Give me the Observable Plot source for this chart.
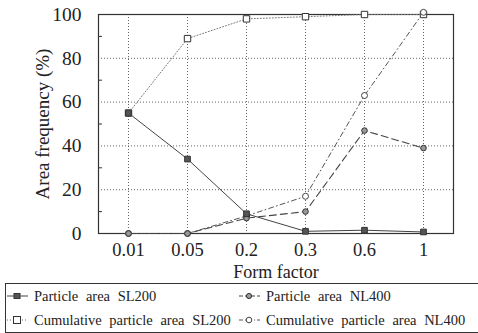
<!DOCTYPE html>
<html><head><meta charset="utf-8">
<script src="https://cdn.jsdelivr.net/npm/d3@7"></script>
<script src="https://cdn.jsdelivr.net/npm/@observablehq/plot@0.6"></script>
<style>
body{margin:0;background:#fff;font-family:'Liberation Serif','DejaVu Serif',serif;}
svg text{font-family:'Liberation Serif','DejaVu Serif',serif;}
#legend{position:absolute;left:5px;top:283px;width:490px;border:1px solid #333;font-size:14.5px;color:#222;word-spacing:4px;font-family:'Liberation Serif',serif;}
#legend .row{display:flex;height:24px;align-items:center;}
#legend .it{display:flex;align-items:center;}
#legend .it:first-child{width:232px;}
#legend svg{margin-right:4px;}
</style></head><body>
<div id="chart"></div>
<div id="legend"></div>
<script>
const formFactor = ["0.01","0.05","0.2","0.3","0.6","1"];
const sl200 = [55,34,9,1,1.5,0.7];
const cumSL200 = [55,89,98,99,100,100];
const nl400 = [0,0,7,10,47,39];
const cumNL400 = [0,0,8,17,63,101];
const yTicks = [0,20,40,60,80,100];
const yMinor = [10,30,50,70,90];
const seriesNames = ["Particle area SL200","Particle area NL400","Cumulative particle area SL200","Cumulative particle area NL400"];

const mk = v => formFactor.map((f,i)=>({f, v:v[i]}));
const s1 = mk(sl200), s2 = mk(cumSL200), s3 = mk(nl400), s4 = mk(cumNL400);
const ink = "#333";
const ff = "'Liberation Serif', 'DejaVu Serif', serif";

const plot = Plot.plot({
  width: 478, height: 282,
  marginLeft: 98, marginRight: 25, marginTop: 14, marginBottom: 49,
  style: {fontFamily: ff, fontSize: "17px", color: "#222", background: "white"},
  x: {type: "point", domain: formFactor, padding: 0.5},
  y: {domain: [0,100]},
  marks: [
    Plot.gridX(formFactor, {stroke: "#555", strokeOpacity: 0.9, strokeDasharray: "1,2"}),
    Plot.gridY(yTicks, {stroke: "#555", strokeOpacity: 0.9, strokeDasharray: "1,2"}),
    Plot.frame({stroke: ink, strokeWidth: 1.2}),
    Plot.axisY(yTicks, {tickSize: 0, tickPadding: 17, fontSize: 19.5, fontFamily: ff, label: null}),
    Plot.axisY(yMinor, {tickSize: -4, text: null, label: null, stroke: ink}),
    Plot.axisX(formFactor, {tickSize: 0, tickPadding: 9, fontSize: 18.5, fontFamily: ff, label: null}),
    Plot.text(["Area frequency (%)"], {frameAnchor: "left", textAnchor: "middle", lineAnchor: "middle", rotate: -90, dx: -56, fontSize: 19, fontFamily: ff, fill: "#222", style: "word-spacing:7px"}),
    Plot.text(["Form factor"], {frameAnchor: "bottom", textAnchor: "middle", lineAnchor: "middle", dy: 39, fontSize: 18, fontFamily: ff, fill: "#222", style: "word-spacing:6px"}),
    Plot.line(s2, {x: "f", y: "v", stroke: "#777", strokeWidth: 1, strokeDasharray: "1,2"}),
    Plot.line(s4, {x: "f", y: "v", stroke: "#555", strokeWidth: 1, strokeDasharray: "5,3,1,3"}),
    Plot.line(s3, {x: "f", y: "v", stroke: "#444", strokeWidth: 1.1, strokeDasharray: "7,4"}),
    Plot.line(s1, {x: "f", y: "v", stroke: "#444", strokeWidth: 1}),
    Plot.dot(s2, {x: "f", y: "v", symbol: "square", r: 3.6, stroke: "#333", fill: "white", strokeWidth: 1}),
    Plot.dot(s4, {x: "f", y: "v", r: 3, stroke: "#444", fill: "white", strokeWidth: 1}),
    Plot.dot(s3, {x: "f", y: "v", r: 2.8, stroke: "#333", fill: "#999", strokeWidth: 1}),
    Plot.dot(s1, {x: "f", y: "v", symbol: "square", r: 3.2, stroke: "#333", fill: "#555", strokeWidth: 1})
  ]
});
document.getElementById("chart").appendChild(plot);

const sym = [
  '<svg width="24" height="10"><line x1="1" y1="5" x2="22" y2="5" stroke="#444"/><rect x="8" y="2.5" width="6" height="5" fill="#555" stroke="#333"/></svg>',
  '<svg width="24" height="10"><line x1="1" y1="5" x2="22" y2="5" stroke="#444" stroke-dasharray="4,2"/><circle cx="11" cy="5" r="2.6" fill="#999" stroke="#333"/></svg>',
  '<svg width="24" height="10"><line x1="1" y1="5" x2="22" y2="5" stroke="#666" stroke-dasharray="1,2"/><rect x="7.5" y="1.5" width="7" height="7" fill="white" stroke="#333"/></svg>',
  '<svg width="24" height="10"><line x1="1" y1="5" x2="22" y2="5" stroke="#555" stroke-dasharray="4,2,1,2"/><circle cx="11" cy="5" r="2.8" fill="white" stroke="#444"/></svg>'
];
const leg = document.getElementById("legend");
for (let r = 0; r < 2; r++) {
  const row = document.createElement("div"); row.className = "row";
  for (let c = 0; c < 2; c++) {
    const k = r*2 + c;
    const it = document.createElement("div"); it.className = "it";
    it.innerHTML = sym[k];
    const t = document.createElement("span"); t.textContent = seriesNames[k];
    it.appendChild(t); row.appendChild(it);
  }
  leg.appendChild(row);
}
</script>
</body></html>
